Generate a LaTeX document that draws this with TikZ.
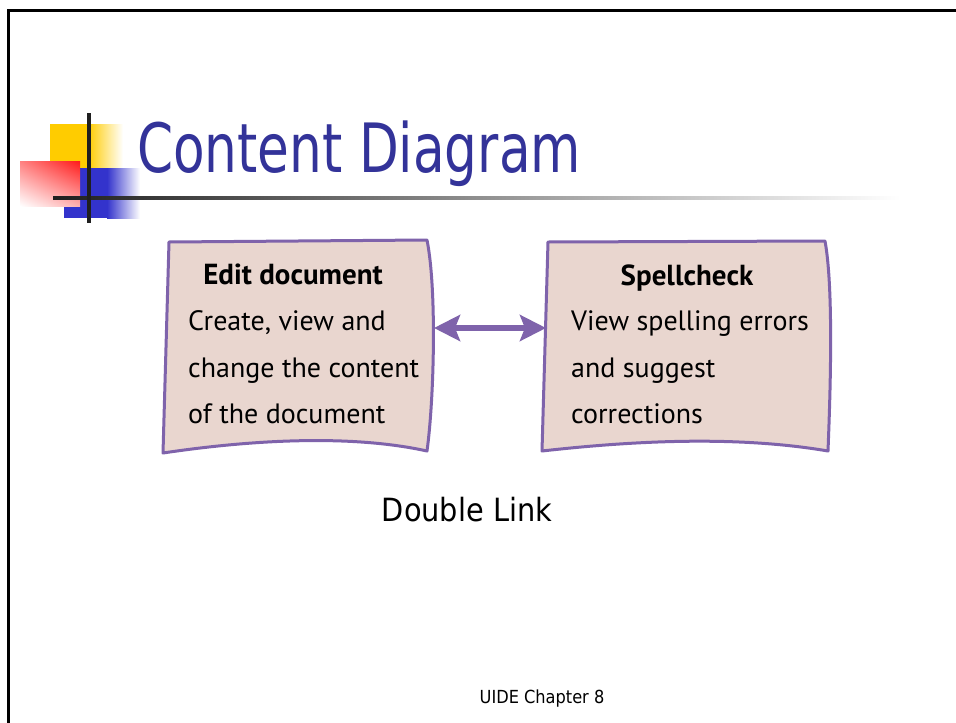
\documentclass[tikz,border=0pt]{standalone}
\usepackage{fontspec}
\setmainfont{DejaVu Sans}
\newfontfamily\hand{PT Sans}
\newfontfamily\slidefont[FakeStretch=0.9]{DejaVu Sans}
\newfontfamily\headfont[FakeStretch=0.76]{DejaVu Sans}
\usetikzlibrary{arrows.meta,shadings}
\definecolor{titleblue}{HTML}{333399}
\definecolor{boxpurple}{HTML}{7F63AB}
\definecolor{boxfill}{HTML}{E9D6CF}
\definecolor{logoyellow}{HTML}{FFCC00}
\definecolor{logoblue}{HTML}{3333CC}
\definecolor{logored}{HTML}{FF1A1A}
\tikzset{
  card/.style={draw=boxpurple, line width=3pt, fill=boxfill, line join=round},
  cardhead/.style={inner sep=0pt, font=\hand\fontsize{29}{34}\selectfont\bfseries},
  cardline/.style={inner sep=0pt, anchor=base west, font=\hand\fontsize{28}{34}\selectfont},
  link/.style={draw=boxpurple, line width=6pt,
    {Stealth[length=26pt,width=26pt,inset=5pt]}-{Stealth[length=26pt,width=26pt,inset=5pt]}},
}
\begin{document}
\begin{tikzpicture}[x=1pt,y=-1pt]
\useasboundingbox (0,0) rectangle (956,723);
\fill[white] (0,0) rectangle (956,723);

% slide frame
\draw[line width=3pt] (8.5,723) -- (8.5,10.5) -- (956,10.5);

% title logo
\fill[logoyellow] (50,124) rectangle (88,168);
\shade[left color=logoyellow, right color=white] (88,124) rectangle (123,168);
\fill[logoblue] (64,168) rectangle (107,218);
\shade[left color=logoblue, right color=white] (107,168) rectangle (140,218);
\shade[upper right=logored, upper left=logored!55, lower right=logored!35, lower left=white]
  (20,161) rectangle (80,206);
\shade[left color=black!88, middle color=black!25, right color=white]
  (53,196.5) rectangle (900,199.5);
\fill[black!88] (87,113) rectangle (91,223);

% title
\node[anchor=base west, inner sep=0pt, text=titleblue,
      font=\headfont\fontsize{68}{80}\selectfont] (title) at (137,172) {Content Diagram};

% cards
\draw[card] (169,242) -- (427,240) .. controls (437,290) and (434,400) .. (427,451)
  .. controls (350,434) and (250,440) .. (163,453) -- cycle;
\draw[card] (548,242) -- (825,241) .. controls (834,290) and (830,400) .. (828,451)
  .. controls (740,436) and (640,440) .. (542,451) -- cycle;

\node[cardhead, anchor=base] (editH) at (293,284) {Edit document};
\node[cardline] (edit1) at (188,330) {Create, view and};
\node[cardline] (edit2) at (188,377) {change the content};
\node[cardline] (edit3) at (188,423) {of the document};

\node[cardhead, anchor=base] (spellH) at (687,285) {Spellcheck};
\node[cardline] (spell1) at (571,330) {View spelling errors};
\node[cardline] (spell2) at (571,377) {and suggest};
\node[cardline] (spell3) at (571,423) {corrections};

% double link between the cards
\coordinate (editR) at (434,328);
\coordinate (spellL) at (546,328);
\draw[link] (editR) -- (spellL);

\node[anchor=base, inner sep=0pt, font=\slidefont\fontsize{32}{38}\selectfont] (caption) at (467,521) {Double Link};
\node[anchor=base, inner sep=0pt, font=\slidefont\fontsize{18}{22}\selectfont] (footer) at (542,703) {UIDE Chapter 8};
\end{tikzpicture}
\end{document}
